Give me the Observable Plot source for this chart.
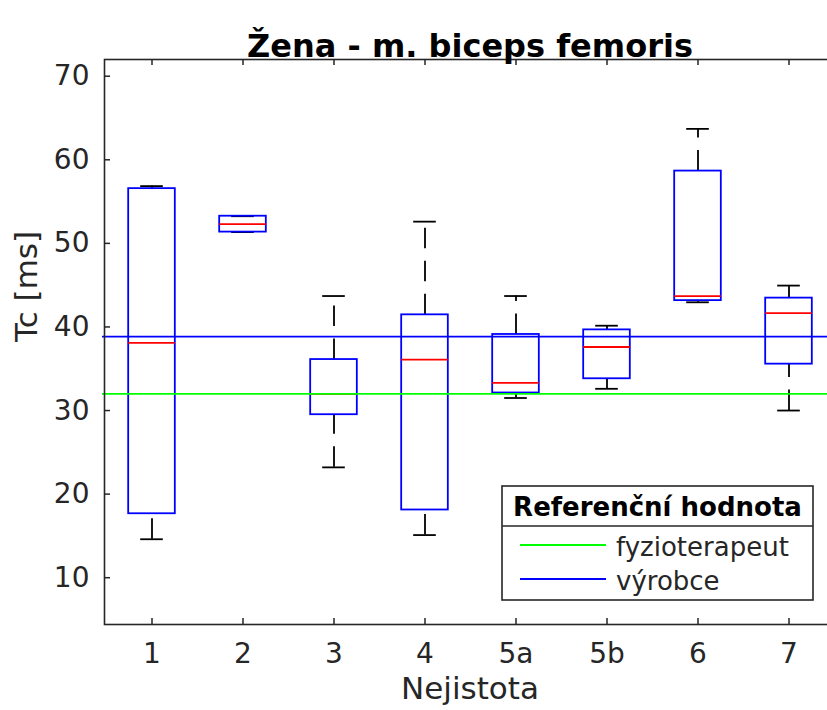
<!DOCTYPE html>
<html><head><meta charset="utf-8">
<script src="https://cdn.jsdelivr.net/npm/d3@7"></script>
<script src="https://cdn.jsdelivr.net/npm/@observablehq/plot@0.6"></script>
<style>
html,body{margin:0;padding:0;background:#fff;overflow:hidden;}
#chart{width:827px;height:710px;}
</style></head>
<body><div id="chart"></div>
<script>
const title = "Žena - m. biceps femoris";
const xLabel = "Nejistota";
const yLabel = "Tc [ms]";
const categories = ["1","2","3","4","5a","5b","6","7"];
const lowerWhisker = [14.6, 51.35, 23.2, 15.1, 31.5, 32.6, 42.95, 30.0];
const q1 = [17.65, 51.35, 29.5, 18.1, 32.1, 33.8, 43.15, 35.55];
const medians = [38.1, 52.3, 32.0, 36.1, 33.3, 37.6, 43.7, 41.65];
const q3 = [56.55, 53.25, 36.1, 41.45, 39.1, 39.65, 58.65, 43.45];
const upperWhisker = [56.85, 53.25, 43.7, 52.6, 43.7, 40.15, 63.7, 44.95];
const yTicks = [10, 20, 30, 40, 50, 60, 70];
const legendTitle = "Referenční hodnota";
const refLabels = ["fyzioterapeut", "výrobce"];
const refValues = [32.0, 38.85];
const refColors = ["#00ff00", "#0000ff"];

const rows = categories.map((c, i) => ({cat: c, lo: lowerWhisker[i], q1: q1[i], med: medians[i], q3: q3[i], hi: upperWhisker[i]}));

const W = 827, H = 710, mL = 104, mR = -8, mT = 59, mB = 86;
const fw = W - mL - mR, fh = H - mT - mB;
const band = fw / categories.length;
const boxInset = (band - 47) / 2, capInset = (band - 23) / 2;
const axisColor = "#262626";
const font = "DejaVu Sans";
const lw = 1.8;

const plot = Plot.plot({
  width: W, height: H,
  marginLeft: mL, marginRight: mR, marginTop: mT, marginBottom: mB,
  style: {fontFamily: font, background: "white", color: axisColor},
  x: {type: "band", domain: categories, padding: 0, label: null},
  y: {domain: [4.4, 72], label: null},
  marks: [
    Plot.ruleX(rows, {x: "cat", y1: "lo", y2: "q1", stroke: "black", strokeWidth: lw, strokeDasharray: "20.5,12.5"}),
    Plot.ruleX(rows, {x: "cat", y1: "q3", y2: "hi", stroke: "black", strokeWidth: lw, strokeDasharray: "20.5,12.5"}),
    Plot.tickY(rows, {x: "cat", y: "lo", insetLeft: capInset, insetRight: capInset, stroke: "black", strokeWidth: lw}),
    Plot.tickY(rows, {x: "cat", y: "hi", insetLeft: capInset, insetRight: capInset, stroke: "black", strokeWidth: lw}),
    Plot.barY(rows, {x: "cat", y1: "q1", y2: "q3", insetLeft: boxInset, insetRight: boxInset, fill: "none", stroke: "#0000ff", strokeWidth: lw}),
    Plot.tickY(rows, {x: "cat", y: "med", insetLeft: boxInset, insetRight: boxInset, stroke: "#ff0000", strokeWidth: lw}),
    Plot.ruleY(refValues, {y: d => d, stroke: (d, i) => refColors[i], strokeWidth: lw, insetLeft: -2}),
    Plot.tickY(yTicks, {y: d => d, insetRight: fw - 6, stroke: axisColor, strokeWidth: 1.5}),
    Plot.tickX(categories, {x: d => d, insetBottom: fh - 6, stroke: axisColor, strokeWidth: 1.5}),
    Plot.tickX(categories, {x: d => d, insetTop: fh - 6, stroke: axisColor, strokeWidth: 1.5}),
    Plot.frame({stroke: axisColor, strokeWidth: 1.6}),
    Plot.axisY(yTicks, {tickSize: 0, tickPadding: 15, fontSize: 28, fill: axisColor}),
    Plot.axisX({tickSize: 0, tickPadding: 19, fontSize: 28, fill: axisColor}),
    Plot.text([yLabel], {frameAnchor: "left", rotate: -90, dx: -77, fontSize: 31, fill: axisColor}),
    Plot.text([xLabel], {frameAnchor: "bottom", dy: 74, fontSize: 31, fill: axisColor}),
    Plot.text([title], {frameAnchor: "top", dy: -25, fontSize: 32, fontWeight: "bold", fill: "black"})
  ]
});
document.getElementById("chart").appendChild(plot);

// legend box (decoration drawn into the same SVG)
const svg = d3.select(plot);
const g = svg.append("g").attr("font-family", font);
const lx = 502, ly = 486, lwid = 311, lh = 114;
g.append("rect").attr("x", lx).attr("y", ly).attr("width", lwid).attr("height", lh)
  .attr("fill", "white").attr("stroke", axisColor).attr("stroke-width", 1.6);
g.append("line").attr("x1", lx).attr("x2", lx + lwid).attr("y1", ly + 40).attr("y2", ly + 40)
  .attr("stroke", axisColor).attr("stroke-width", 1.5);
g.append("text").attr("x", lx + lwid / 2).attr("y", ly + 30).attr("text-anchor", "middle")
  .attr("font-size", 26).attr("font-weight", "bold").attr("fill", "black").text(legendTitle);
refLabels.forEach((lab, i) => {
  const yy = ly + 59 + i * 34;
  g.append("line").attr("x1", lx + 18).attr("x2", lx + 104).attr("y1", yy).attr("y2", yy)
    .attr("stroke", refColors[i]).attr("stroke-width", lw);
  g.append("text").attr("x", lx + 114).attr("y", yy + 11).attr("text-anchor", "start")
    .attr("font-size", 26).attr("fill", axisColor).text(lab);
});
</script>
</body></html>
